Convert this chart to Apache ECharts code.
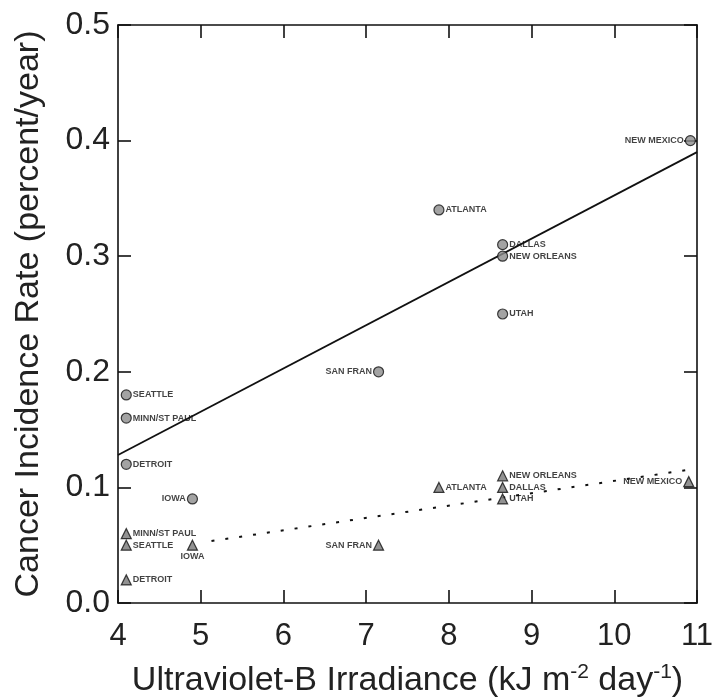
<!DOCTYPE html>
<html>
<head>
<meta charset="utf-8">
<script src="https://cdn.jsdelivr.net/npm/echarts@6/dist/echarts.min.js"></script>
<style>html,body{margin:0;padding:0;background:#fff}#c{width:713px;height:700px}</style>
</head>
<body>
<div id="c"></div>
<script>
// ---- data ----
const circleNames = ['SEATTLE', 'MINN/ST PAUL', 'DETROIT', 'IOWA', 'SAN FRAN', 'ATLANTA', 'DALLAS', 'NEW ORLEANS', 'UTAH', 'NEW MEXICO'];
const circleX = [4.1, 4.1, 4.1, 4.9, 7.15, 7.88, 8.65, 8.65, 8.65, 10.92];
const circleY = [0.18, 0.16, 0.12, 0.09, 0.20, 0.34, 0.31, 0.30, 0.25, 0.40];

const triNames = ['MINN/ST PAUL', 'SEATTLE', 'IOWA', 'DETROIT', 'SAN FRAN', 'ATLANTA', 'NEW ORLEANS', 'DALLAS', 'UTAH', 'NEW MEXICO'];
const triX = [4.1, 4.1, 4.9, 4.1, 7.15, 7.88, 8.65, 8.65, 8.65, 10.9];
const triY = [0.06, 0.05, 0.05, 0.02, 0.05, 0.10, 0.11, 0.10, 0.09, 0.105];

const fitSolidX = [4, 11];
const fitSolidY = [0.128, 0.390];
const fitDotX = [5.13, 10.97];
const fitDotY = [0.0536, 0.116];

const xTicks = [4, 5, 6, 7, 8, 9, 10, 11];
const yTicks = [0.0, 0.1, 0.2, 0.3, 0.4, 0.5];

// label placement (layout, not data)
const circleLabelSide = {'IOWA': 'left', 'SAN FRAN': 'left', 'NEW MEXICO': 'left'};
const triLabelSide = {'IOWA': 'bottom', 'SAN FRAN': 'left', 'NEW MEXICO': 'left'};

const FONT = '"Liberation Sans", Arial, sans-serif';
const labelStyle = {show: true, fontSize: 9, fontWeight: 'bold', color: '#111', fontFamily: FONT, distance: 1};

function pts(names, xs, ys, sides) {
  return names.map((n, i) => ({
    name: n,
    value: [xs[i], ys[i]],
    label: Object.assign({}, labelStyle, {position: sides[n] || 'right', formatter: n})
  }));
}

const chart = echarts.init(document.getElementById('c'), null, {renderer: 'canvas'});
const axisLine = {show: true, onZero: false, lineStyle: {color: '#111', width: 1.6}};
const axisTick = {show: true, inside: true, length: 13, lineStyle: {color: '#111', width: 1.6}};

chart.setOption({
  animation: false,
  backgroundColor: '#fff',
  grid: {left: 118, right: 16, top: 25, bottom: 97, containLabel: false, outerBoundsMode: 'none'},
  xAxis: [{
    type: 'value', min: xTicks[0], max: xTicks[xTicks.length - 1], interval: 1,
    axisLine, axisTick, splitLine: {show: false},
    axisLabel: {fontSize: 31, color: '#222', fontFamily: FONT, margin: 18},
    name: 'Ultraviolet-B Irradiance (kJ m{sup|-2} day{sup|-1})',
    nameLocation: 'middle', nameGap: 59,
    nameTextStyle: {fontSize: 34, color: '#222', fontFamily: FONT,
      rich: {sup: {fontSize: 21, color: '#222', fontFamily: FONT, verticalAlign: 'top', padding: [0, 0, 16, 0]}}}
  }, {
    type: 'value', position: 'top', min: xTicks[0], max: xTicks[xTicks.length - 1], interval: 1,
    axisLine, axisTick, axisLabel: {show: false}, splitLine: {show: false}
  }],
  yAxis: [{
    type: 'value', min: yTicks[0], max: yTicks[yTicks.length - 1], interval: 0.1,
    axisLine, axisTick, splitLine: {show: false},
    axisLabel: {fontSize: 32, color: '#222', fontFamily: FONT, margin: 8, formatter: v => v.toFixed(1)},
    name: 'Cancer Incidence Rate (percent/year)',
    nameLocation: 'middle', nameGap: 72,
    nameTextStyle: {fontSize: 34, color: '#222', fontFamily: FONT}
  }, {
    type: 'value', position: 'right', min: yTicks[0], max: yTicks[yTicks.length - 1], interval: 0.1,
    axisLine, axisTick, axisLabel: {show: false}, splitLine: {show: false}
  }],
  series: [
    {
      type: 'line', data: fitSolidX.map((x, i) => [x, fitSolidY[i]]),
      showSymbol: false, symbol: 'none', lineStyle: {color: '#111', width: 1.8}, silent: true, z: 1
    },
    {
      type: 'line', data: fitDotX.map((x, i) => [x, fitDotY[i]]),
      showSymbol: false, symbol: 'none', lineStyle: {color: '#111', width: 2, type: [3, 11]}, silent: true, z: 1
    },
    {
      type: 'scatter', symbol: 'circle', symbolSize: 10,
      itemStyle: {color: '#8c8c8c', borderColor: '#111', borderWidth: 1.2},
      data: pts(circleNames, circleX, circleY, circleLabelSide), z: 3
    },
    {
      type: 'scatter', symbol: 'triangle', symbolSize: 10,
      itemStyle: {color: '#777', borderColor: '#111', borderWidth: 1.2},
      data: pts(triNames, triX, triY, triLabelSide), z: 3
    }
  ]
});
</script>
</body>
</html>
